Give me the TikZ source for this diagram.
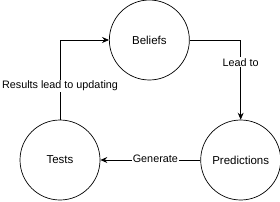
\documentclass[tikz,border=0pt]{standalone}
\usepackage{fontspec}
\setmainfont{Liberation Sans}
\usetikzlibrary{arrows.meta,positioning,calc}
\tikzset{
    stage/.style={
        circle,                   % cada etapa es un circulo
        draw=black,               % borde negro fino
        line width=0.7pt,
        minimum size=80pt,        % diametro fijo para las tres etapas
        inner sep=0pt,
        font=\fontsize{11.5}{13}\selectfont
    },
    flow/.style={
        line width=0.7pt,
        -{Stealth[length=7pt,width=6pt,inset=2.5pt]} % punta tipo "classic"
    },
    flowlabel/.style={
        fill=white,               % tapa la linea detras del texto
        inner sep=1pt,
        font=\fontsize{10.8}{12}\selectfont
    }
}
\begin{document}
\begin{tikzpicture}[x=1pt,y=1pt]
			\useasboundingbox (0,0) rectangle (280,201);
			\node[stage] (tests) at (60,41) {Tests};
			\node[stage, right=100pt of tests] (predictions) {Predictions};
			\node[stage] (beliefs) at ($(tests)!0.5!(predictions)+(-1,120)$) {Beliefs};

			\draw[flow] (beliefs.east) -| node[flowlabel, pos=0.64] {Lead to} (predictions.north);
			\draw[flow] (predictions.west) -- node[flowlabel, pos=0.45, yshift=1pt] {Generate} (tests.east);
			\draw[flow] (tests.north) |- node[flowlabel, pos=0.21] {Results lead to updating} (beliefs.west);
		\end{tikzpicture}
\end{document}
